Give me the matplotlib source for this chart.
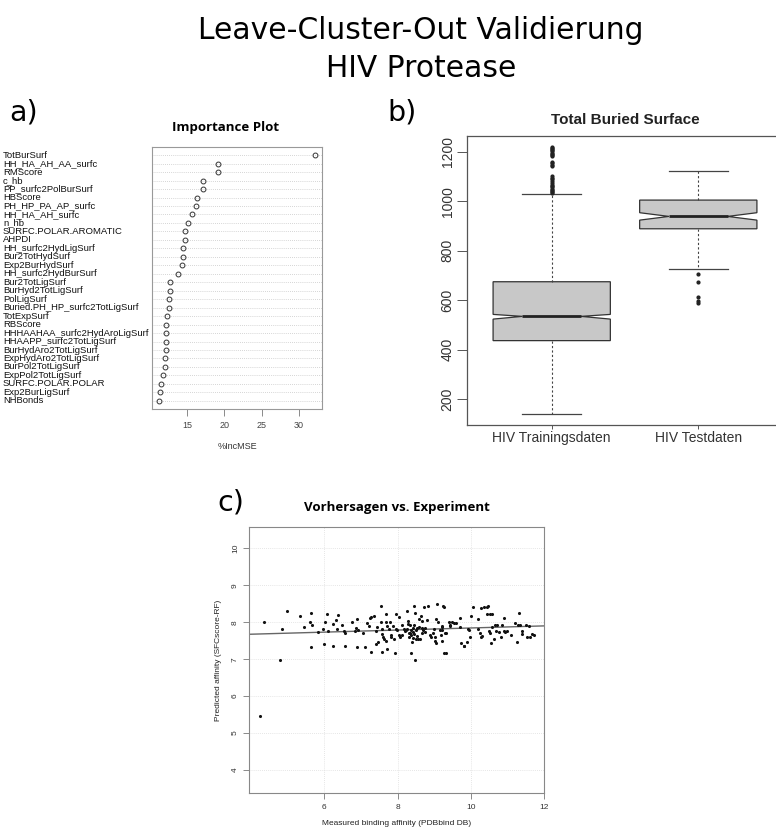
import matplotlib
matplotlib.use("Agg")
import matplotlib.pyplot as plt
import matplotlib.transforms as mtransforms
import numpy as np

# ---------------- data ----------------
var_names = [
    "TotBurSurf", "HH_HA_AH_AA_surfc", "RMScore", "c_hb", "PP_surfc2PolBurSurf",
    "HBScore", "PH_HP_PA_AP_surfc", "HH_HA_AH_surfc", "n_hb", "SURFC.POLAR.AROMATIC",
    "AHPDI", "HH_surfc2HydLigSurf", "Bur2TotHydSurf", "Exp2BurHydSurf",
    "HH_surfc2HydBurSurf", "Bur2TotLigSurf", "BurHyd2TotLigSurf", "PolLigSurf",
    "Buried.PH_HP_surfc2TotLigSurf", "TotExpSurf", "RBScore",
    "HHHAAHAA_surfc2HydAroLigSurf", "HHAAPP_surfc2TotLigSurf", "BurHydAro2TotLigSurf",
    "ExpHydAro2TotLigSurf", "BurPol2TotLigSurf", "ExpPol2TotLigSurf",
    "SURFC.POLAR.POLAR", "Exp2BurLigSurf", "NHBonds",
]
var_incmse = [
    32.2, 19.17, 19.17, 17.2, 17.2, 16.4, 16.2, 15.65, 15.2, 14.73,
    14.73, 14.55, 14.42, 14.38, 13.8, 12.7, 12.7, 12.64, 12.6, 12.38,
    12.24, 12.2, 12.2, 12.15, 12.02, 12.02, 11.75, 11.58, 11.44, 11.22,
]
imp_xticks = [15, 20, 25, 30]

box_labels = ["HIV Trainingsdaten", "HIV Testdaten"]
box_q1 = [436, 888]
box_med = [534, 938]
box_q3 = [674, 1004]
box_whislo = [138, 726]
box_whishi = [1027, 1120]
box_cilo = [523, 923]
box_cihi = [542, 953]
train_outliers = [1032, 1036, 1040, 1045, 1050, 1055, 1060, 1066, 1072, 1080,
                  1088, 1095, 1103, 1140, 1146, 1152, 1158, 1181, 1186, 1191,
                  1196, 1201, 1206, 1211, 1216, 1220]
test_outliers = [704, 672, 611, 598, 587]
box_yticks = [200, 400, 600, 800, 1000, 1200]

measured = [
    4.26, 4.35, 4.99, 4.86, 5.35, 5.64, 5.46, 5.62, 5.67, 6.09, 6.38, 6.31, 6.02,
    6.25, 6.50, 5.98, 5.82, 6.11, 6.35, 6.54, 6.56, 5.64, 6.00, 6.23, 6.56, 4.79,
    6.77, 6.89, 6.83, 6.86, 6.92, 6.89, 7.11, 7.16, 7.22, 7.24, 7.29, 7.36, 7.27,
    7.42, 7.40, 7.48, 7.54, 7.56, 7.59, 7.59, 7.61, 7.59, 7.64, 7.68, 7.69, 7.69,
    7.70, 7.72, 7.77, 7.79, 7.83, 7.88, 7.90, 7.95, 7.96, 7.93, 7.99, 8.04, 8.04,
    8.08, 8.12, 8.13, 8.17, 8.19, 8.25, 8.26, 8.28, 8.30, 8.31, 8.34, 8.36, 8.37,
    8.39, 8.37, 8.41, 8.43, 8.45, 8.46, 8.47, 8.47, 8.49, 8.50, 8.52, 8.55, 8.58,
    8.63, 8.66, 8.67, 8.68, 8.72, 8.74, 8.76, 8.81, 8.84, 8.88, 8.90, 8.97, 8.99,
    9.01, 9.04, 9.03, 9.06, 9.08, 9.10, 9.17, 9.19, 9.21, 9.22, 9.24, 9.26, 9.29,
    9.31, 9.40, 9.42, 9.49, 9.55, 9.60, 9.70, 9.71, 9.73, 9.80, 9.89, 9.91, 9.95,
    9.97, 9.99, 10.06, 10.18, 10.20, 10.24, 10.28, 10.28, 10.37, 10.43, 10.44,
    10.46, 10.48, 10.51, 10.53, 10.55, 10.57, 10.58, 10.62, 10.66, 10.69, 10.71,
    10.76, 10.82, 10.85, 10.89, 10.91, 10.94, 11.09, 11.19, 11.25, 11.29, 11.30,
    11.34, 11.38, 11.39, 11.57, 11.60, 11.66, 11.71,
    8.22, 8.33, 8.44, 8.58, 8.62, 8.28, 8.53, 8.41, 8.70, 7.83, 7.45, 7.05,
    9.22, 9.22, 9.31, 9.43, 9.27, 9.82, 10.30, 10.98, 11.50, 11.52,
]
predicted = [
    5.47, 8.01, 8.30, 7.81, 8.16, 8.24, 7.86, 8.00, 7.92, 8.22, 8.19, 8.06, 8.00,
    7.95, 7.93, 7.82, 7.73, 7.75, 7.82, 7.77, 7.72, 7.32, 7.42, 7.35, 7.36, 6.98,
    8.01, 8.10, 7.76, 7.84, 7.79, 7.34, 7.34, 7.97, 7.91, 8.12, 8.13, 8.17, 7.20,
    7.77, 7.41, 7.47, 8.45, 8.01, 7.83, 7.68, 7.61, 7.20, 7.56, 7.50, 8.21, 8.01,
    7.27, 7.90, 7.83, 8.00, 7.61, 7.90, 7.54, 8.22, 7.83, 7.18, 7.79, 8.15, 7.65,
    7.61, 7.66, 7.92, 7.83, 7.77, 7.82, 8.31, 8.04, 7.70, 7.61, 7.92, 7.79, 7.65,
    7.47, 7.16, 7.85, 7.74, 7.92, 8.45, 8.26, 6.98, 7.79, 7.54, 7.85, 7.54, 8.08,
    8.17, 8.04, 7.85, 7.70, 8.42, 7.74, 7.85, 8.06, 8.44, 7.65, 7.61, 7.70, 7.81,
    7.50, 8.10, 7.61, 7.43, 8.49, 8.00, 7.79, 7.65, 7.50, 7.91, 8.44, 8.40, 7.70,
    7.16, 8.01, 7.92, 8.00, 7.97, 7.97, 8.11, 7.88, 7.45, 7.36, 7.47, 7.83, 7.79,
    7.59, 8.18, 8.42, 8.08, 7.81, 7.70, 7.61, 8.38, 8.40, 8.21, 8.40,
    8.44, 7.76, 8.23, 7.70, 7.45, 8.21, 7.88, 7.56, 7.92, 7.76, 7.92,
    7.74, 7.61, 7.92, 8.12, 7.76, 7.73, 7.65, 7.97, 7.47, 7.92, 8.26,
    7.92, 7.75, 7.68, 7.90, 7.61, 7.68, 7.65,
    7.80, 7.72, 7.68, 7.88, 7.55, 7.95, 7.63, 7.58, 7.78, 7.66, 7.88, 7.70,
    7.88, 7.79, 7.70, 7.91, 7.17, 7.36, 7.62, 7.75, 7.92, 7.59,
]
scatter_xticks = [6, 8, 10, 12]
scatter_yticks = [4, 5, 6, 7, 8, 9, 10]

# ---------------- layout helpers ----------------
W, H = 776, 834
fig = plt.figure(figsize=(W / 100, H / 100), dpi=100)


def rect(l, t, r, b):
    return [l / W, 1 - b / H, (r - l) / W, (b - t) / H]


def fx(x):
    return x / W


def fy(y):
    return 1 - y / H


SANS = "Liberation Sans"

# ---------------- main title & panel labels ----------------
fig.text(fx(421), fy(39.3), "Leave-Cluster-Out Validierung", ha="center",
         va="baseline", fontsize=21.4, family="DejaVu Sans")
fig.text(fx(421), fy(77.3), "HIV Protease", ha="center", va="baseline",
         fontsize=21.4, family="DejaVu Sans")
fig.text(fx(9), fy(121), "a)", ha="left", va="baseline", fontsize=20.5,
         family="DejaVu Sans")
fig.text(fx(387), fy(121), "b)", ha="left", va="baseline", fontsize=20.5,
         family="DejaVu Sans")
fig.text(fx(217), fy(511), "c)", ha="left", va="baseline", fontsize=20.5,
         family="DejaVu Sans")

# ---------------- panel a: importance plot ----------------
ax_a = fig.add_axes(rect(152.3, 146.7, 321.7, 409.3))
n = len(var_names)
rows = np.arange(n, 0, -1)
ax_a.set_xlim(10.38, 33.04)
ax_a.set_ylim(0, n + 1)
for r in rows:
    ax_a.axhline(r, color="#c8c8c8", lw=0.6, ls=(0, (1, 1.5)), zorder=1)
ax_a.plot(var_incmse, rows, ls="none", marker="o", ms=3.5, mfc="none",
          mec="#333333", mew=0.7, zorder=3)
ax_a.set_yticks([])
ax_a.set_xticks(imp_xticks)
ax_a.set_xticklabels([str(t) for t in imp_xticks], fontsize=6.5, family=SANS,
                     color="#444444")
ax_a.tick_params(axis="x", length=4.8, width=0.6, color="#777777", pad=3.5)
for s in ax_a.spines.values():
    s.set_color("#999999")
    s.set_linewidth(0.8)
ax_a.set_xlabel("%IncMSE", fontsize=6.5, family=SANS, color="#333333",
                labelpad=9)
trans_a = mtransforms.blended_transform_factory(fig.transFigure, ax_a.transData)
for name, r in zip(var_names, rows):
    ax_a.text(fx(3), r, name, transform=trans_a, ha="left", va="center",
              fontsize=6.8, family=SANS, color="#111111", clip_on=False)
fig.text(fx(225.5), fy(127.5), "Importance Plot", ha="center", va="center",
         fontsize=9.5, family="Open Sans", fontweight="bold")

# ---------------- panel b: boxplot ----------------
ax_b = fig.add_axes(rect(466.7, 136, 783.3, 425))
stats = []
fliers = [train_outliers, test_outliers]
for i in range(2):
    stats.append(dict(med=box_med[i], q1=box_q1[i], q3=box_q3[i],
                      whislo=box_whislo[i], whishi=box_whishi[i],
                      cilo=box_cilo[i], cihi=box_cihi[i],
                      fliers=np.array(fliers[i]), label=box_labels[i]))
ax_b.bxp(stats, positions=[1, 2], widths=0.8, shownotches=True,
         patch_artist=True,
         boxprops=dict(facecolor="#c8c8c8", edgecolor="#333333", linewidth=0.9),
         medianprops=dict(color="#222222", linewidth=2.0),
         whiskerprops=dict(color="#444444", linewidth=0.8, linestyle=(0, (2, 2))),
         capprops=dict(color="#444444", linewidth=0.9),
         flierprops=dict(marker="o", markersize=2.0, markerfacecolor="#222222",
                         markeredgecolor="#222222"))
ax_b.set_xlim(0.42, 2.58)
ax_b.set_ylim(95, 1263)
ax_b.set_yticks(box_yticks)
ax_b.set_yticklabels([str(t) for t in box_yticks], rotation=90, va="center",
                     fontsize=10, family=SANS, color="#333333")
ax_b.set_xticks([1, 2])
ax_b.set_xticklabels(box_labels, fontsize=10, family=SANS, color="#333333")
ax_b.tick_params(axis="y", length=7.2, width=0.7, color="#555555", pad=1.5)
ax_b.tick_params(axis="x", length=3, width=0.7, color="#555555", pad=1.5)
for s in ax_b.spines.values():
    s.set_color("#555555")
    s.set_linewidth(0.9)
ax_b.set_title("Total Buried Surface", fontsize=11, family=SANS,
               fontweight="bold", color="#222222", pad=9)

# ---------------- panel c: scatter ----------------
ax_c = fig.add_axes(rect(249.3, 527.3, 544.3, 793.3))
ax_c.set_xlim(3.96, 12.0)
ax_c.set_ylim(3.37, 10.57)
ax_c.set_xticks(scatter_xticks)
ax_c.set_yticks(scatter_yticks)
ax_c.grid(True, color="#dddddd", linestyle=(0, (1, 1.5)), linewidth=0.6)
ax_c.set_axisbelow(True)
ax_c.scatter(measured, predicted, s=5, color="#111111", zorder=3,
             linewidths=0)
slope, intercept = np.polyfit(measured, predicted, 1)
ax_c.axline((0, intercept), slope=slope, color="#666666", lw=1.0, zorder=2)
ax_c.set_xticklabels([str(t) for t in scatter_xticks], fontsize=6, family=SANS,
                     color="#333333")
ax_c.set_yticklabels([str(t) for t in scatter_yticks], fontsize=6, family=SANS,
                     color="#333333", rotation=90, va="center")
ax_c.tick_params(length=4.5, width=0.6, color="#777777", pad=3)
for s in ax_c.spines.values():
    s.set_color("#888888")
    s.set_linewidth(0.8)
ax_c.set_xlabel("Measured binding affinity (PDBbind DB)", fontsize=6,
                family=SANS, color="#222222", labelpad=7)
ax_c.set_ylabel("Predicted affinity (SFCscore-RF)", fontsize=6, family=SANS,
                color="#222222", labelpad=7)
fig.text(fx(397), fy(507), "Vorhersagen vs. Experiment", ha="center",
         va="center", fontsize=9.5, family="Open Sans", fontweight="bold")

fig.savefig("out.png", dpi=100)
